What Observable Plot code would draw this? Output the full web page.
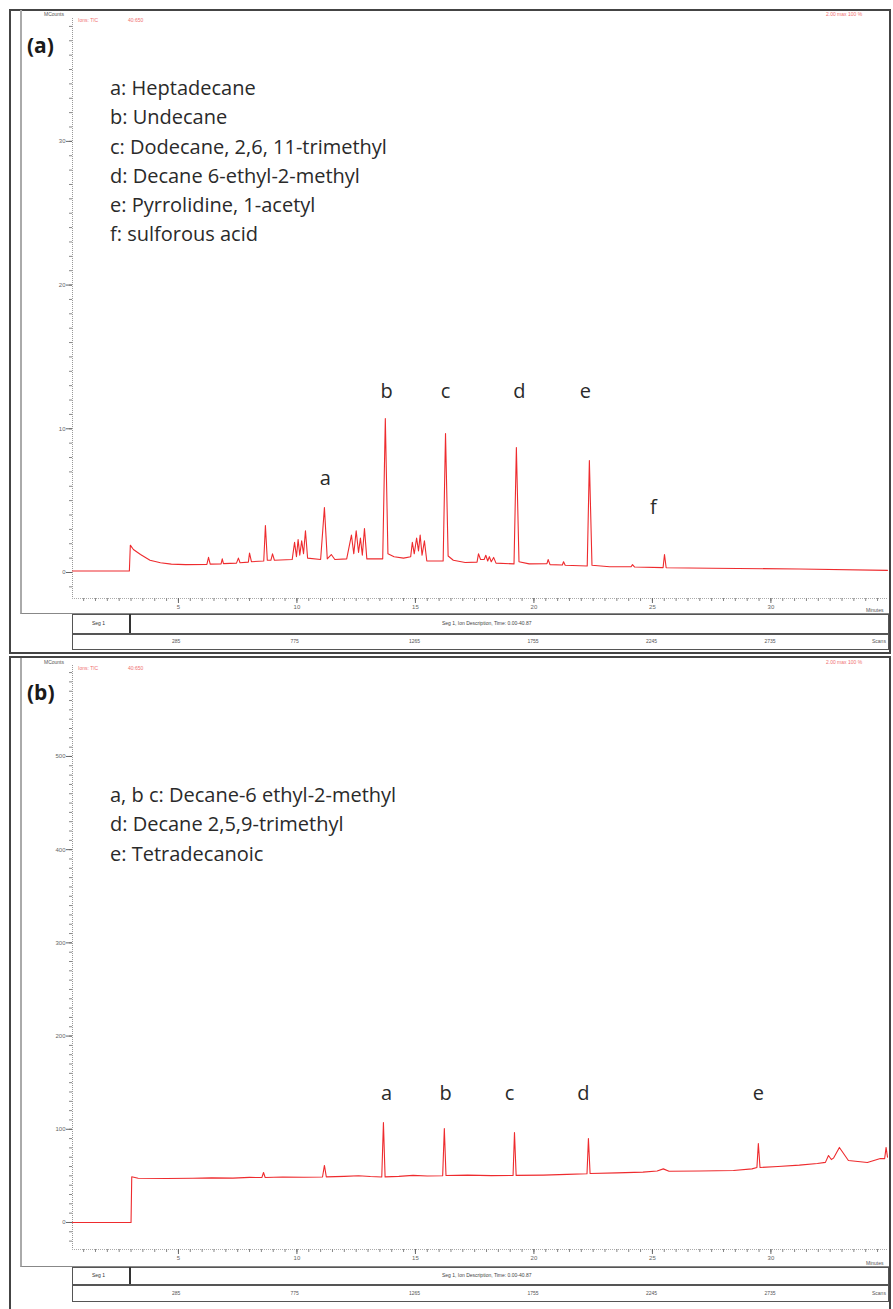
<!DOCTYPE html>
<html><head><meta charset="utf-8">
<script src="https://cdn.jsdelivr.net/npm/d3@7"></script>
<script src="https://cdn.jsdelivr.net/npm/@observablehq/plot@0.6"></script>
<style>
body{margin:0;background:#fff;}
#root{position:relative;width:893px;height:1309px;overflow:hidden;background:#fff;font-family:"Open Sans",sans-serif;}
.box{position:absolute;box-sizing:border-box;}
.t{position:absolute;white-space:nowrap;}
.tiny{font-family:"Liberation Sans",sans-serif;font-size:5px;color:#555;}
.red{font-family:"Liberation Sans",sans-serif;font-size:5px;color:#f07070;}
.legend{position:absolute;left:110px;font-size:20px;line-height:29.3px;color:#2a2a2a;white-space:nowrap;}
.plab{position:absolute;font-weight:bold;font-size:21px;color:#1a1a1a;}
.svgwrap{position:absolute;left:20px;}
</style></head><body><div id="root"></div>
<script>
// ---------- data ----------
// Panel (a): retention time (min), signal (kCounts)
const traceA = [[0.53,0.1],[2.93,0.1],[2.97,1.9],[3.1,1.6],[3.4,1.25],[3.8,0.85],[4.24,0.68],[4.7,0.58],[5.3,0.55],[6.2,0.56],[6.27,1.05],[6.34,0.58],[6.8,0.6],[6.85,0.95],[6.9,0.62],[7.45,0.65],[7.53,1.0],[7.6,0.68],[7.95,0.72],[8.0,1.35],[8.08,0.75],[8.6,0.8],[8.67,3.27],[8.75,0.85],[8.9,0.85],[8.97,1.3],[9.05,0.85],[9.8,0.9],[9.9,2.1],[9.98,1.1],[10.05,2.3],[10.12,1.2],[10.2,2.2],[10.28,1.3],[10.36,2.9],[10.45,1.0],[11.0,0.9],[11.16,4.52],[11.28,0.95],[11.45,1.25],[11.6,0.9],[12.1,0.95],[12.3,2.6],[12.4,1.3],[12.5,2.9],[12.6,1.4],[12.68,2.4],[12.76,1.2],[12.85,3.06],[12.95,0.95],[13.62,0.95],[13.73,10.72],[13.84,1.3],[14.1,1.1],[14.5,1.0],[14.8,1.1],[14.87,2.1],[14.95,1.3],[15.05,2.4],[15.13,1.5],[15.2,2.6],[15.28,1.2],[15.38,2.2],[15.48,0.8],[16.17,0.8],[16.27,9.67],[16.38,1.15],[16.6,0.85],[17.1,0.7],[17.6,0.72],[17.66,1.3],[17.75,0.9],[17.9,0.9],[17.97,1.2],[18.05,0.8],[18.12,1.1],[18.2,0.75],[18.3,1.05],[18.4,0.65],[19.16,0.6],[19.26,8.70],[19.37,0.75],[19.8,0.6],[20.55,0.62],[20.6,0.9],[20.68,0.55],[21.2,0.52],[21.25,0.75],[21.32,0.5],[22.25,0.45],[22.34,7.79],[22.45,0.5],[23.2,0.4],[24.1,0.4],[24.16,0.55],[24.25,0.38],[25.45,0.34],[25.51,1.25],[25.58,0.33],[27.5,0.3],[31.2,0.24],[34.92,0.15]];
// Panel (b)
const traceB = [[0.53,0],[3.0,0],[3.03,49],[3.3,47.5],[4.5,47.2],[5.6,47.4],[6.4,47.8],[7.3,47.6],[8.0,48.4],[8.52,48.2],[8.59,53.6],[8.66,48.3],[9.4,48.8],[10.3,48.5],[11.08,48.8],[11.16,61.2],[11.24,48.9],[12.0,49.5],[12.6,50.2],[13.1,49.3],[13.58,48.8],[13.65,107.3],[13.72,48.9],[14.3,49.5],[14.9,50.5],[15.5,49.8],[16.15,50.2],[16.22,100.9],[16.29,50.4],[17.2,50.8],[18.2,50.3],[19.12,50.4],[19.18,96.6],[19.25,50.5],[20.4,50.8],[21.4,51.6],[22.24,52.3],[22.3,90.1],[22.37,52.6],[23.5,53.2],[24.6,54],[25.2,55.2],[25.46,57.5],[25.7,55],[27.0,55.3],[28.42,55.8],[29.2,57.5],[29.41,59],[29.47,84.8],[29.54,59],[30.3,60],[31.2,61.5],[31.96,63.3],[32.3,64.5],[32.43,71.9],[32.55,67.5],[32.64,69],[32.89,80.5],[33.27,66.5],[34.07,64.4],[34.62,68.7],[34.8,68.5],[34.86,80.5],[34.92,70]];

const peakNamesA = ["a","b","c","d","e","f"];
const peakTimesA = [11.2, 13.78, 16.27, 19.39, 22.17, 25.04];
const peakLabelYA = [6.54, 12.6, 12.6, 12.6, 12.6, 4.52];
const peakNamesB = ["a","b","c","d","e"];
const peakTimesB = [13.78, 16.27, 18.97, 22.09, 29.47];
const peakLabelYB = [138.4, 138.4, 138.4, 138.4, 138.4];

const legendA = ["a: Heptadecane","b: Undecane","c: Dodecane, 2,6, 11-trimethyl","d: Decane 6-ethyl-2-methyl","e: Pyrrolidine, 1-acetyl","f: sulforous acid"];
const legendB = ["a, b c: Decane-6 ethyl-2-methyl","d: Decane 2,5,9-trimethyl","e: Tetradecanoic"];

const xDomain = [0.53, 34.92];
const xMajorTicks = [5, 10, 15, 20, 25, 30];
const scanLabels = ["285", "775", "1265", "1755", "2245", "2735"];
const yMajorA = [0, 10, 20, 30];
const yMajorB = [0, 100, 200, 300, 400, 500];

// ---------- layout ----------
const root = document.getElementById("root");
function box(l, t, w, h, css) {
  const d = document.createElement("div");
  d.className = "box";
  Object.assign(d.style, {left: l + "px", top: t + "px", width: w + "px", height: h + "px"}, css);
  root.appendChild(d); return d;
}
function text(l, t, s, cls, css) {
  const d = document.createElement("div");
  d.className = "t " + (cls || "");
  d.textContent = s;
  Object.assign(d.style, {left: l + "px", top: t + "px"}, css || {});
  root.appendChild(d); return d;
}

const RED = "#ee2b2e";

function chromatogram({trace, yDomain, yMajor, yMinorStep, names, times, labelY, height, marginTop, marginBottom}) {
  const yMinor = d3.range(Math.ceil(yDomain[0] / yMinorStep) * yMinorStep, yDomain[1], yMinorStep);
  const xMinor = d3.range(1, xDomain[1], 0.5);
  const labels = names.map((n, i) => ({n, t: times[i], v: labelY[i]}));
  return Plot.plot({
    width: 868, height, marginLeft: 52, marginRight: 1, marginTop, marginBottom,
    style: {background: "transparent", fontFamily: "Liberation Sans, sans-serif", fontSize: "6px", color: "#666"},
    x: {domain: xDomain, label: null},
    y: {domain: yDomain, label: null},
    marks: [
      Plot.ruleX([xDomain[0]], {stroke: "#999", strokeWidth: 1, strokeDasharray: "1,1"}),
      Plot.ruleY([yDomain[0]], {stroke: "#aaa", strokeWidth: 1, strokeDasharray: "1,1"}),
      Plot.axisY(yMinor, {tickSize: 3, stroke: "#888", fill: "none", label: null}),
      Plot.axisY(yMajor, {tickSize: 6, tickPadding: 1, stroke: "#666", fill: "#666", fontSize: 6, label: null}),
      Plot.axisX(xMinor, {tickSize: 3, stroke: "#888", fill: "none", label: null}),
      Plot.axisX(xMajorTicks, {tickSize: 5, tickPadding: 1, stroke: "#666", fill: "#666", fontSize: 6, label: null}),
      Plot.line(trace, {x: d => d[0], y: d => d[1], stroke: RED, strokeWidth: 1.1}),
      Plot.text(labels, {x: "t", y: "v", text: "n", fontSize: 20, fill: "#2a2a2a", fontFamily: "Open Sans, sans-serif"})
    ]
  });
}

function panel(cfg) {
  box(9, cfg.outerTop, 882, cfg.outerH, {border: "2.5px solid #444"});
  box(20, cfg.innerTop, 869, cfg.innerBottom - cfg.innerTop, {borderLeft: "2px solid #aaa", borderBottom: "1.5px solid #888"});
  const chart = chromatogram(cfg);
  const wrap = document.createElement("div");
  wrap.className = "svgwrap";
  wrap.style.top = cfg.svgTop + "px";
  wrap.appendChild(chart);
  root.appendChild(wrap);
  const sb = cfg.innerBottom;
  box(72, sb, 817, cfg.stripH, {border: "1.5px solid #555"});
  box(72, sb + cfg.stripMid, 817, 1.5, {background: "#555"});
  box(129, sb, 1.5, cfg.stripMid, {background: "#333"});
  text(92, sb + cfg.stripMid / 2 - 3.5, "Seg 1", "tiny", {color: "#333"});
  text(442, sb + cfg.stripMid / 2 - 3.5, "Seg 1, Ion Description, Time: 0.00-40.87", "tiny", {color: "#444"});
  text(866, sb - 7, "Minutes", "tiny");
  const xs = chart.scale("x");
  scanLabels.forEach((s, i) => {
    const px = 20 + xs.apply(xMajorTicks[i]);
    text(px - 6, sb + cfg.stripMid + (cfg.stripH - cfg.stripMid) / 2 - 3.5, s, "tiny");
  });
  text(872, sb + cfg.stripMid + (cfg.stripH - cfg.stripMid) / 2 - 3.5, "Scans", "tiny");
  text(44, cfg.innerTop + 1, "MCounts", "tiny");
  text(78, cfg.innerTop + 7, "Ions: TIC", "red");
  text(128, cfg.innerTop + 7, "40:650", "red");
  text(826, cfg.innerTop + 1, "2.00 max 100 %", "red");
  text(27, cfg.labelTop, cfg.label, "plab");
  const lg = document.createElement("div");
  lg.className = "legend";
  lg.style.top = cfg.legendTop + "px";
  cfg.legend.forEach(s => { const l = document.createElement("div"); l.textContent = s; lg.appendChild(l); });
  root.appendChild(lg);
}

panel({
  trace: traceA, yDomain: [-1.81, 38.55], yMajor: yMajorA, yMinorStep: 1,
  names: peakNamesA, times: peakTimesA, labelY: peakLabelYA,
  height: 600, marginTop: 6, marginBottom: 14, svgTop: 12,
  outerTop: 9, outerH: 645, innerTop: 10, innerBottom: 614, stripH: 36, stripMid: 19,
  label: "(a)", labelTop: 31, legend: legendA, legendTop: 73
});
panel({
  trace: traceB, yDomain: [-29, 597.6], yMajor: yMajorB, yMinorStep: 10,
  names: peakNamesB, times: peakTimesB, labelY: peakLabelYB,
  height: 602, marginTop: 5, marginBottom: 13, svgTop: 660,
  outerTop: 656, outerH: 670, innerTop: 658, innerBottom: 1267, stripH: 35, stripMid: 17,
  label: "(b)", labelTop: 678, legend: legendB, legendTop: 780
});
</script></body></html>
